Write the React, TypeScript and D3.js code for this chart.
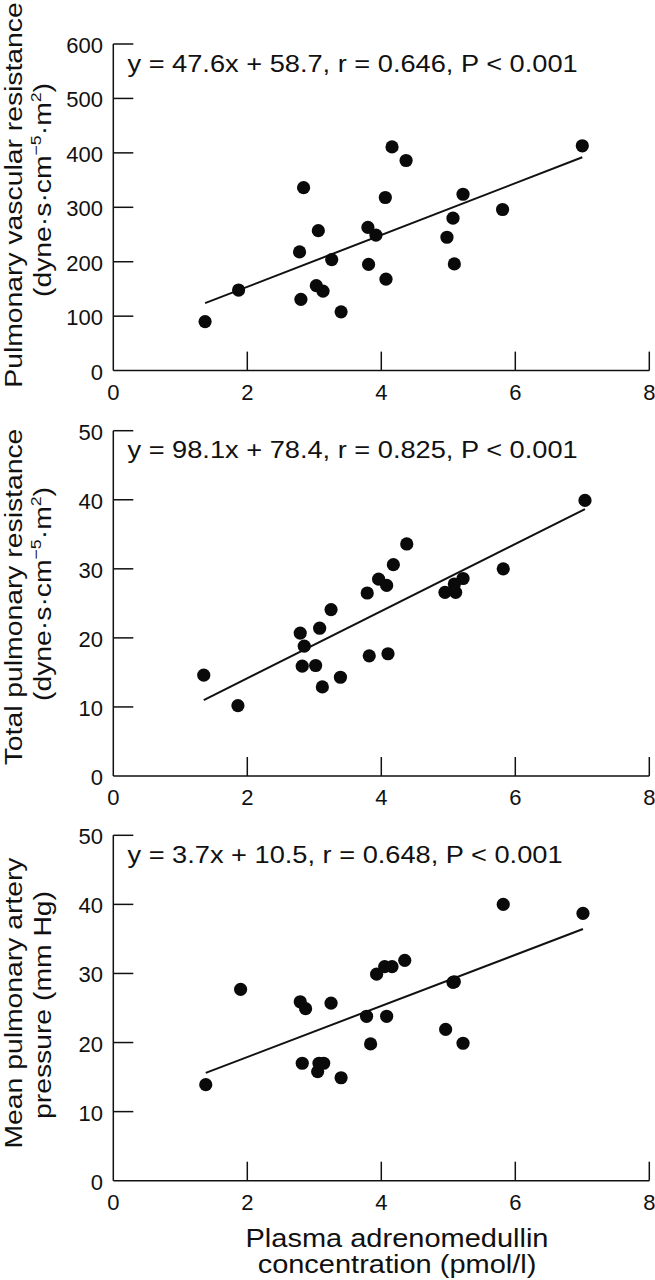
import React from 'react';
import * as d3 from 'd3';

// ---------- data ----------
const xTicks = [0, 2, 4, 6, 8];

// Panel 1: pulmonary vascular resistance
const pvrX = [1.37, 1.87, 2.78, 2.80, 2.84, 3.03, 3.06, 3.13, 3.26, 3.40, 3.80, 3.81, 3.92, 4.06, 4.07, 4.16, 4.37, 4.98, 5.07, 5.09, 5.22, 5.81, 7.00];
const pvrY = [90, 148, 218, 131, 336, 156, 257, 146, 204, 108, 263, 195, 249, 318, 168, 411, 386, 245, 280, 196, 324, 296, 413];
const pvrTicks = [0, 100, 200, 300, 400, 500, 600];
const pvrFit = [47.6, 58.7];
const pvrEq = 'y = 47.6x + 58.7, r = 0.646, P < 0.001';

// Panel 2: total pulmonary resistance
const tprX = [1.35, 1.86, 2.79, 2.82, 2.85, 3.02, 3.08, 3.12, 3.25, 3.39, 3.79, 3.82, 3.96, 4.08, 4.10, 4.18, 4.38, 4.95, 5.09, 5.11, 5.22, 5.82, 7.04];
const tprY = [14.6, 10.2, 20.7, 15.9, 18.8, 16.0, 21.4, 12.9, 24.1, 14.3, 26.5, 17.4, 28.5, 27.6, 17.7, 30.6, 33.6, 26.6, 27.8, 26.6, 28.6, 30.0, 39.9];
const tprTicks = [0, 10, 20, 30, 40, 50];
const tprFit = [4.86, 4.44];
const tprEq = 'y = 98.1x + 78.4, r = 0.825, P < 0.001';

// Panel 3: mean pulmonary artery pressure
const mpapX = [1.38, 1.90, 2.79, 2.82, 2.87, 3.05, 3.07, 3.14, 3.25, 3.40, 3.78, 3.84, 3.93, 4.05, 4.08, 4.16, 4.35, 4.96, 5.07, 5.09, 5.22, 5.82, 7.01];
const mpapY = [13.9, 27.7, 25.9, 17.0, 24.9, 15.8, 17.0, 17.0, 25.7, 14.9, 23.8, 19.8, 29.9, 31.0, 23.8, 31.0, 31.9, 21.9, 28.7, 28.8, 19.9, 40.0, 38.7];
const mpapTicks = [0, 10, 20, 30, 40, 50];
const mpapFit = [3.7, 10.5];
const mpapEq = 'y = 3.7x + 10.5, r = 0.648, P < 0.001';

const unitsLine = [
  { t: '(dyne·s·cm' },
  { t: '−5', sup: true },
  { t: '·m' },
  { t: '2', sup: true },
  { t: ')' },
];
const pvrTitle = [[{ t: 'Pulmonary vascular resistance' }], unitsLine];
const tprTitle = [[{ t: 'Total pulmonary resistance' }], unitsLine];
const mpapTitle = [[{ t: 'Mean pulmonary artery' }], [{ t: 'pressure (mm Hg)' }]];

const xTitle = ['Plasma adrenomedullin', 'concentration (pmol/l)'];

// ---------- layout ----------
const W = 655;
const H = 1280;
const LEFT = 113.3;
const RIGHT = 649.3;
const FONT = '"Liberation Sans", Arial, Helvetica, sans-serif';
const INK = '#111';

const panels = [
  { xs: pvrX, ys: pvrY, ticks: pvrTicks, fit: pvrFit, eq: pvrEq, title: pvrTitle, top: 44, bottom: 370.6, c1: 195, c2: 190 },
  { xs: tprX, ys: tprY, ticks: tprTicks, fit: tprFit, eq: tprEq, title: tprTitle, top: 430.7, bottom: 776, c1: 597, c2: 594 },
  { xs: mpapX, ys: mpapY, ticks: mpapTicks, fit: mpapFit, eq: mpapEq, title: mpapTitle, top: 835.3, bottom: 1180.7, c1: 1003, c2: 1005 },
];

function Segs({ segs }: { segs: any[] }) {
  return (
    <>
      {segs.map((s, i) =>
        s.sup ? (
          <tspan key={i} fontSize={15} dy={-10}>{s.t}</tspan>
        ) : (
          <tspan key={i} dy={i > 0 && segs[i - 1].sup ? 10 : 0}>{s.t}</tspan>
        )
      )}
    </>
  );
}

function Panel({ p }: { p: any }) {
  const x = d3.scaleLinear().domain([0, 8]).range([LEFT, RIGHT]);
  const yMax = p.ticks[p.ticks.length - 1];
  const y = d3.scaleLinear().domain([0, yMax]).range([p.bottom, p.top]);
  const xMin = d3.min(p.xs) as number;
  const xMaxD = d3.max(p.xs) as number;
  const fitLine = d3.line<number>()
    .x((v) => x(v))
    .y((v) => y(p.fit[0] * v + p.fit[1]));
  return (
    <g>
      <line x1={x(0)} x2={x(0)} y1={y(yMax)} y2={y(0)} stroke={INK} strokeWidth={1.5} />
      <line x1={x(0)} x2={x(8)} y1={y(0)} y2={y(0)} stroke={INK} strokeWidth={1.5} />
      {p.ticks.filter((t: number) => t > 0).map((t: number) => (
        <line key={'yt' + t} x1={x(0)} x2={x(0) + 20} y1={y(t)} y2={y(t)} stroke={INK} strokeWidth={1.5} />
      ))}
      {xTicks.filter((t) => t > 0).map((t) => (
        <line key={'xt' + t} x1={x(t)} x2={x(t)} y1={y(0)} y2={y(0) - 19} stroke={INK} strokeWidth={1.5} />
      ))}
      {p.ticks.map((t: number) => (
        <text key={'yl' + t} x={103} y={y(t) + 9} textAnchor="end" fontSize={22} fontFamily={FONT} fill={INK}>{t}</text>
      ))}
      {xTicks.map((t) => (
        <text key={'xl' + t} x={x(t)} y={y(0) + 29} textAnchor="middle" fontSize={22} fontFamily={FONT} fill={INK}>{t}</text>
      ))}
      <g transform={`translate(127.5, ${p.top + 27.7}) scale(1.183, 1)`}>
        <text x={0} y={0} fontSize={23} fontFamily={FONT} fill={INK}>{p.eq}</text>
      </g>
      <path d={fitLine([xMin, xMaxD]) || ''} fill="none" stroke={INK} strokeWidth={2} />
      {p.xs.map((v: number, i: number) => (
        <circle key={i} cx={x(v)} cy={y(p.ys[i])} r={6.6} fill="#0a0a0a" />
      ))}
      <g transform={`translate(22, ${p.c1}) rotate(-90) scale(1.18, 1)`}>
        <text textAnchor="middle" fontSize={24} fontFamily={FONT} fill={INK}><Segs segs={p.title[0]} /></text>
      </g>
      <g transform={`translate(51, ${p.c2}) rotate(-90) scale(1.18, 1)`}>
        <text textAnchor="middle" fontSize={24} fontFamily={FONT} fill={INK}><Segs segs={p.title[1]} /></text>
      </g>
    </g>
  );
}

export default function App() {
  return (
    <svg width={W} height={H} viewBox={`0 0 ${W} ${H}`} style={{ position: 'absolute', left: 0, top: 0, background: '#fff' }}>
      <rect x={0} y={0} width={W} height={H} fill="#fff" />
      {panels.map((p, i) => <Panel key={i} p={p} />)}
      {xTitle.map((t, i) => (
        <g key={t} transform={`translate(397, ${1247.3 + i * 26}) scale(1.16, 1)`}>
          <text textAnchor="middle" fontSize={25} fontFamily={FONT} fill={INK}>{t}</text>
        </g>
      ))}
    </svg>
  );
}
